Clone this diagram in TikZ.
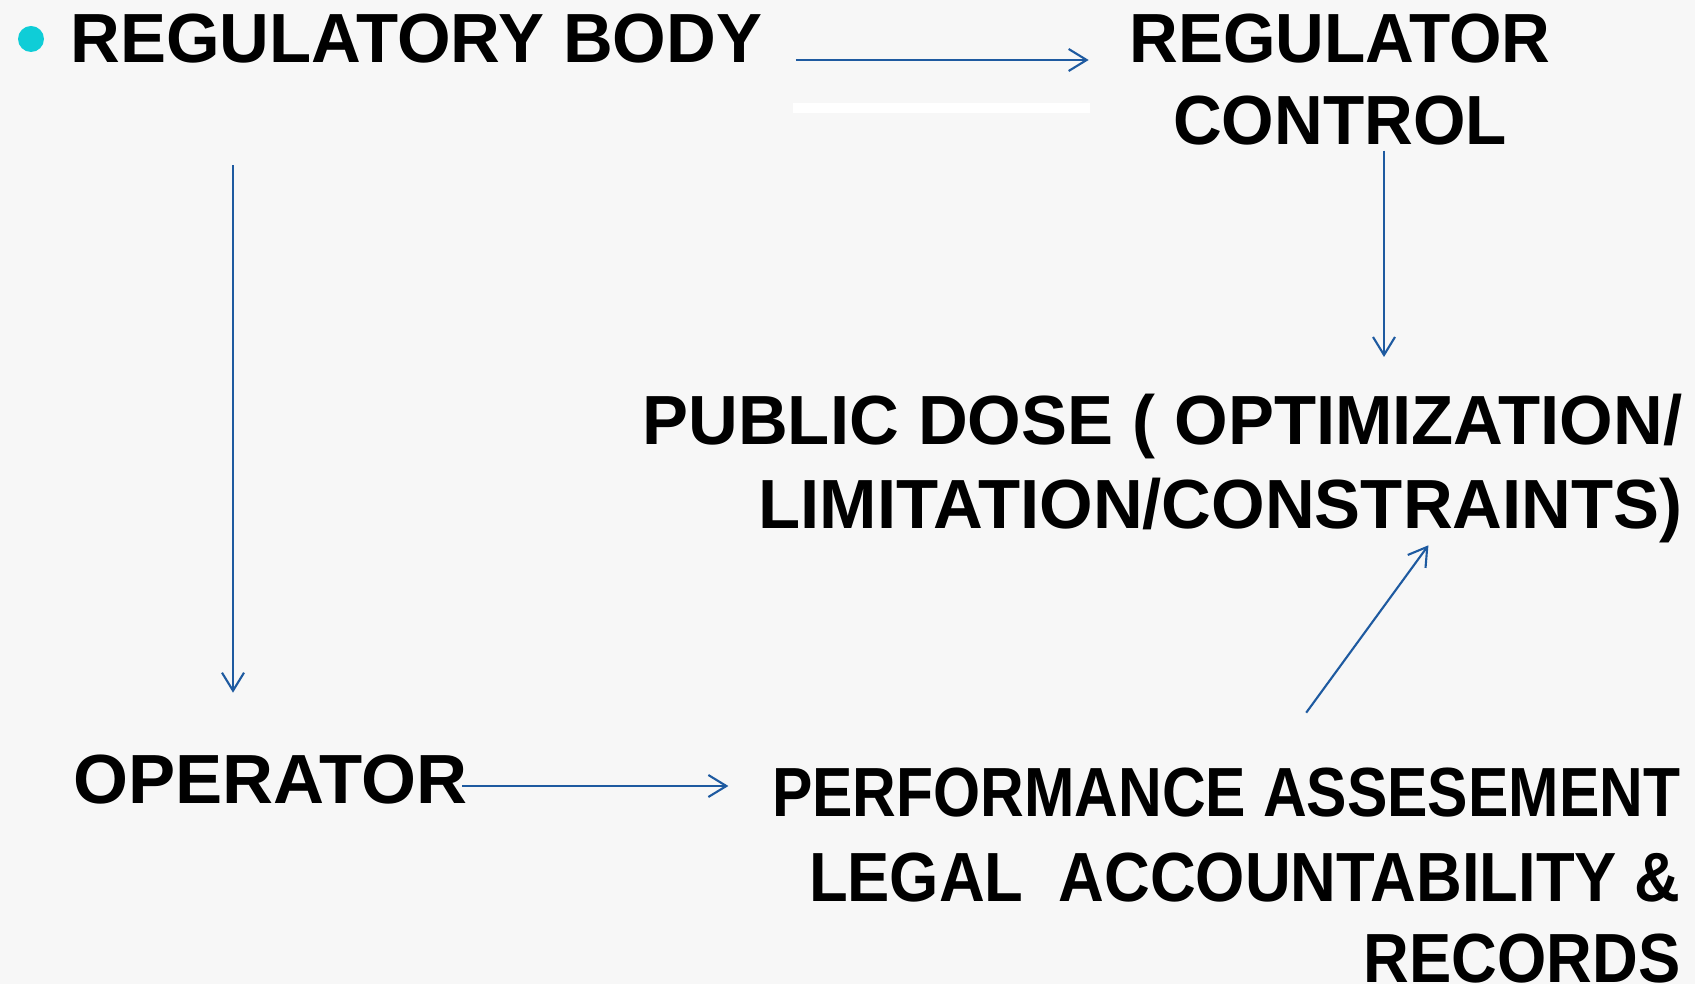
\documentclass[tikz,border=0pt]{standalone}
\usepackage{fontspec}
\setmainfont{Liberation Sans}
\newfontfamily\lblfont{Liberation Sans}[FakeStretch=0.99]
\newfontfamily\lblwide{Liberation Sans}[FakeStretch=1.015]
\newfontfamily\lblslim{Liberation Sans}[FakeStretch=0.97]
\newfontfamily\lblnarrow{Liberation Sans}[FakeStretch=0.91]
\newfontfamily\lblnarrower{Liberation Sans}[FakeStretch=0.87]
\usetikzlibrary{calc, positioning, arrows.meta}
\definecolor{linkblue}{RGB}{30,90,160}
\definecolor{dotcyan}{RGB}{15,205,215}
\definecolor{slidebg}{RGB}{247,247,247}

\begin{document}
\begin{tikzpicture}[lbl/.style={inner sep=0pt, font=\lblfont\bfseries\fontsize{19.8}{23.5}\selectfont},
  link/.style={draw=linkblue, line width=0.6pt, -{Straight Barb[length=1.8mm, width=2.2mm]}}]
\useasboundingbox (0,0) rectangle (16.95,9.84);
\fill[slidebg] (0,0) rectangle (16.95,9.84);
\fill[white] (7.93,8.71) rectangle (10.90,8.81);
\node[circle, fill=dotcyan, inner sep=0pt, minimum size=2.6mm] (dot) at (0.31,9.45) {};
\node[lbl, anchor=base west] (rb) at (0.70,9.21) {REGULATORY BODY};
\node[lbl, anchor=north, align=center, font=\lblslim\bfseries\fontsize{19.8}{23.3}\selectfont] (rc) at (13.40,9.71)
  {REGULATOR\\CONTROL};
\node[lbl, anchor=north east, align=right, font=\lblfont\bfseries\fontsize{19.8}{23.9}\selectfont] (pd) at (16.83,5.91)
  {PUBLIC DOSE ( OPTIMIZATION/\\LIMITATION/CONSTRAINTS)};
\node[lbl, anchor=base west, font=\lblwide\bfseries\fontsize{19.8}{23.5}\selectfont] (op) at (0.73,1.81) {OPERATOR};
\node[lbl, anchor=base east, font=\lblnarrower\bfseries\fontsize{19.8}{23.5}\selectfont] (pa) at (16.81,1.68)
  {PERFORMANCE ASSESEMENT};
\node[lbl, anchor=north east, align=right, font=\lblnarrow\bfseries\fontsize{19.8}{23.0}\selectfont] (lr) at (16.81,1.32)
  {LEGAL~~ACCOUNTABILITY \&\\RECORDS};
\draw[link] ($(rb.base east)+(0.33,0.03)$) -- ($(rb.base east -| rc.west)+(-0.40,0.03)$);
\draw[link] ($(rc.south)+(0.44,-0.05)$) -- ($(rc.south |- pd.north)+(0.44,0.36)$);
\draw[link] ($(rb.south west)+(1.63,-1.01)$) -- ($(op.north west)+(1.60,0.61)$);
\draw[link] ($(op.base east)+(-0.06,0.17)$) -- ($(pa.base west)+(-0.43,0.30)$);
\draw[link] ($(pa.north)+(0.80,0.54)$) -- ($(pd.south)+(2.66,-0.02)$);
\end{tikzpicture}
\end{document}
